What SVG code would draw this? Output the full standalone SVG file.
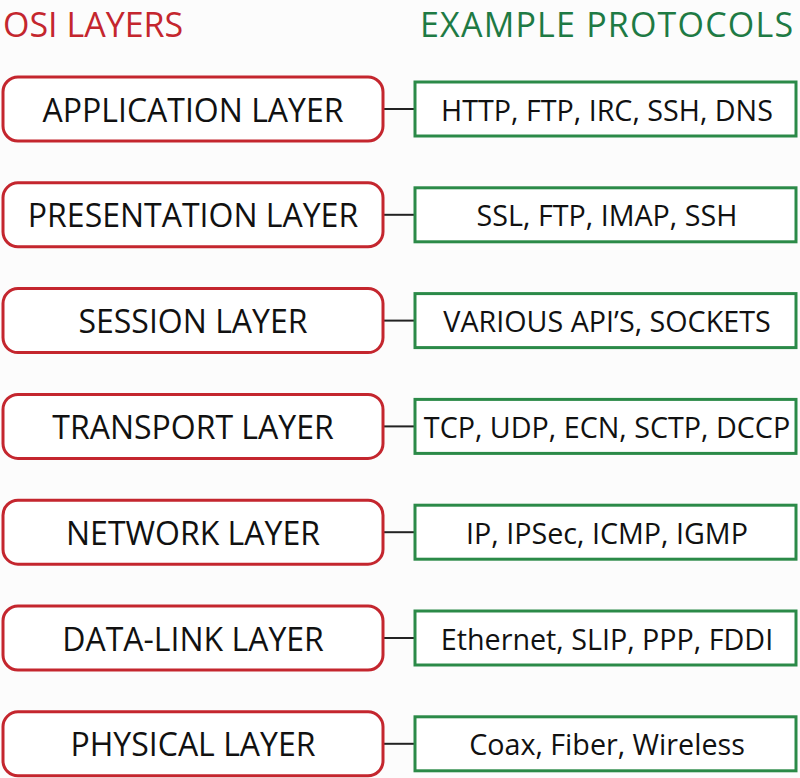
<svg xmlns="http://www.w3.org/2000/svg" width="800" height="778" viewBox="0 0 800 778">
<style>
.layer rect{fill:#fff;stroke:#c4262e;stroke-width:3}
.proto rect{fill:#fff;stroke:#2b8a48;stroke-width:3}
.t{font-family:"Open Sans","Liberation Sans",sans-serif;fill:#111;text-anchor:middle;dominant-baseline:central}
.layer .t{font-size:32px}
.proto .t{font-size:28.7px}
.h{font-family:"Open Sans","Liberation Sans",sans-serif;font-size:34px}
#connectors line{stroke:#222;stroke-width:2}
</style>
<rect width="800" height="778" fill="#fcfcfc"/>
<text id="hdr-osi" class="h" x="3" y="36.5" fill="#c4262e">OSI LAYERS</text>
<text id="hdr-proto" class="h" x="420" y="36.5" fill="#1e7a44" letter-spacing="1.2">EXAMPLE PROTOCOLS</text>
<g id="connectors">
<line x1="383" y1="109" x2="415" y2="109"/>
<line x1="383" y1="214.8" x2="415" y2="214.8"/>
<line x1="383" y1="320.6" x2="415" y2="320.6"/>
<line x1="383" y1="426.4" x2="415" y2="426.4"/>
<line x1="383" y1="532.2" x2="415" y2="532.2"/>
<line x1="383" y1="638" x2="415" y2="638"/>
<line x1="383" y1="743.8" x2="415" y2="743.8"/>
</g>
<g id="application" class="layer"><rect x="3" y="77" width="380" height="64" rx="15"/><text class="t" x="193" y="109">APPLICATION LAYER</text></g>
<g id="presentation" class="layer"><rect x="3" y="182.8" width="380" height="64" rx="15"/><text class="t" x="193" y="214.8">PRESENTATION LAYER</text></g>
<g id="session" class="layer"><rect x="3" y="288.6" width="380" height="64" rx="15"/><text class="t" x="193" y="320.6">SESSION LAYER</text></g>
<g id="transport" class="layer"><rect x="3" y="394.4" width="380" height="64" rx="15"/><text class="t" x="193" y="426.4">TRANSPORT LAYER</text></g>
<g id="network" class="layer"><rect x="3" y="500.2" width="380" height="64" rx="15"/><text class="t" x="193" y="532.2">NETWORK LAYER</text></g>
<g id="datalink" class="layer"><rect x="3" y="606" width="380" height="64" rx="15"/><text class="t" x="193" y="638">DATA-LINK LAYER</text></g>
<g id="physical" class="layer"><rect x="3" y="711.8" width="380" height="64" rx="15"/><text class="t" x="193" y="743.8">PHYSICAL LAYER</text></g>
<g id="p-application" class="proto"><rect x="415" y="82" width="381" height="54"/><text class="t" x="607" y="109">HTTP, FTP, IRC, SSH, DNS</text></g>
<g id="p-presentation" class="proto"><rect x="415" y="187.8" width="381" height="54"/><text class="t" x="607" y="214.8">SSL, FTP, IMAP, SSH</text></g>
<g id="p-session" class="proto"><rect x="415" y="293.6" width="381" height="54"/><text class="t" x="607" y="320.6">VARIOUS API’S, SOCKETS</text></g>
<g id="p-transport" class="proto"><rect x="415" y="399.4" width="381" height="54"/><text class="t" x="607" y="426.4">TCP, UDP, ECN, SCTP, DCCP</text></g>
<g id="p-network" class="proto"><rect x="415" y="505.2" width="381" height="54"/><text class="t" x="607" y="532.2">IP, IPSec, ICMP, IGMP</text></g>
<g id="p-datalink" class="proto"><rect x="415" y="611" width="381" height="54"/><text class="t" x="607" y="638">Ethernet, SLIP, PPP, FDDI</text></g>
<g id="p-physical" class="proto"><rect x="415" y="716.8" width="381" height="54"/><text class="t" x="607" y="743.8">Coax, Fiber, Wireless</text></g>
</svg>
